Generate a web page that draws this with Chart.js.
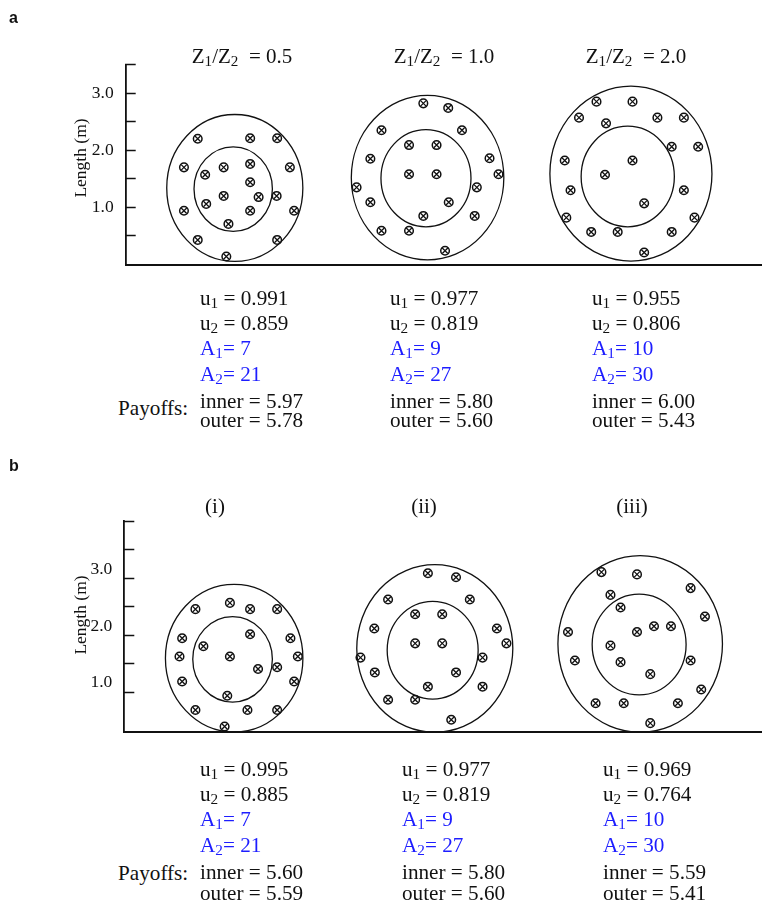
<!DOCTYPE html>
<html><head><meta charset="utf-8">
<script src="https://cdn.jsdelivr.net/npm/chart.js@4/dist/chart.umd.min.js"></script>
<style>
html,body{margin:0;padding:0;background:#fff;}
body{width:767px;height:906px;position:relative;overflow:hidden;font-family:"Liberation Serif","Times New Roman",serif;color:#111;}
canvas{position:absolute;left:0;}
.abs{position:absolute;white-space:nowrap;}
.lab{font-family:"Liberation Sans",Arial,sans-serif;font-weight:bold;font-size:16px;line-height:18px;}
.ttl{font-size:21px;line-height:24px;}
.ylab{font-size:17.5px;line-height:20px;}
.row{font-size:21.2px;line-height:24px;}
.blue{color:#1d1dff;}
sub{font-size:0.72em;vertical-align:baseline;position:relative;top:0.22em;line-height:0;}
</style></head>
<body>
<canvas id="cA" width="767" height="305" style="top:0px"></canvas>
<canvas id="cB" width="767" height="317" style="top:455px"></canvas>
<script>
// ---------------- data ----------------
const panelLetters = ['a', 'b'];
const ratiosA = ['0.5', '1.0', '2.0'];          // Z1/Z2
const titlesB = ['(i)', '(ii)', '(iii)'];
const u1A = ['0.991', '0.977', '0.955'];
const u2A = ['0.859', '0.819', '0.806'];
const a1A = ['7', '9', '10'];
const a2A = ['21', '27', '30'];
const innerA = ['5.97', '5.80', '6.00'];
const outerA = ['5.78', '5.60', '5.43'];
const u1B = ['0.995', '0.977', '0.969'];
const u2B = ['0.885', '0.819', '0.764'];
const a1B = ['7', '9', '10'];
const a2B = ['21', '27', '30'];
const innerB = ['5.60', '5.80', '5.59'];
const outerB = ['5.59', '5.60', '5.41'];
const yTickLabels = ['1.0', '2.0', '3.0'];
const yLabelValuesA = [1, 2, 3];
const yMarkValuesA = [0.5, 1, 1.5, 2, 2.5, 3, 3.5];
const yLabelValuesB = [0.87, 1.85, 2.84];
const yMarkValuesB = [0.69, 1.19, 1.69, 2.19, 2.69, 3.19, 3.69];
// circles: [centre x, centre y, radius] in metres
const outerRingsA = [[2.06, 1.34, 1.285], [5.70, 1.52, 1.44], [9.54, 1.59, 1.53]];
const innerRingsA = [[2.03, 1.32, 0.74], [5.67, 1.51, 0.85], [9.48, 1.54, 0.88]];
const outerRingsB = [[2.07, 1.29, 1.295], [5.85, 1.46, 1.47], [9.72, 1.54, 1.55]];
const innerRingsB = [[2.04, 1.27, 0.75], [5.81, 1.43, 0.857], [9.70, 1.53, 0.885]];
// conductor positions [x, y] in metres
const wiresA1 = [[1.36,2.20],[2.35,2.21],[2.86,2.21],[1.10,1.70],[1.85,1.70],[2.35,1.76],[3.10,1.70],[1.50,1.57],[2.35,1.44],[1.85,1.20],[2.51,1.18],[2.85,1.20],[1.52,1.06],[1.10,0.94],[2.35,0.94],[3.18,0.94],[1.94,0.71],[1.36,0.43],[2.86,0.43],[1.90,0.14]];
const wiresA2 = [[5.62,2.82],[6.09,2.74],[4.83,2.35],[6.35,2.35],[5.35,2.09],[5.87,2.09],[4.62,1.85],[6.87,1.86],[5.35,1.58],[5.87,1.58],[7.04,1.58],[4.36,1.35],[6.63,1.35],[4.62,1.09],[6.10,1.09],[5.62,0.85],[6.59,0.85],[4.83,0.59],[5.35,0.59],[6.03,0.24]];
const wiresA3 = [[8.89,2.85],[9.57,2.85],[8.56,2.57],[9.07,2.47],[10.04,2.57],[10.54,2.57],[10.31,2.06],[10.81,2.06],[8.29,1.82],[9.57,1.82],[9.05,1.57],[8.40,1.30],[10.54,1.30],[9.79,1.07],[8.32,0.82],[10.74,0.82],[8.79,0.57],[9.29,0.57],[10.31,0.57],[9.79,0.21]];
const wiresB1 = [[1.99,2.26],[1.34,2.15],[2.37,2.15],[2.88,2.15],[2.37,1.71],[1.09,1.64],[3.13,1.64],[1.49,1.50],[1.04,1.32],[1.99,1.32],[3.27,1.32],[2.52,1.10],[2.88,1.13],[1.09,0.88],[3.20,0.88],[1.94,0.63],[1.34,0.38],[2.32,0.38],[2.88,0.38],[1.89,0.09]];
const wiresB2 = [[5.72,2.78],[6.25,2.71],[4.97,2.32],[6.51,2.32],[5.48,2.06],[5.99,2.06],[4.71,1.81],[7.02,1.81],[7.20,1.55],[5.48,1.55],[5.99,1.55],[4.45,1.30],[6.75,1.30],[4.72,1.04],[6.25,1.04],[5.72,0.79],[6.75,0.79],[4.97,0.56],[5.48,0.56],[6.16,0.21]];
const wiresB3 = [[8.99,2.80],[9.66,2.76],[10.67,2.52],[9.16,2.40],[9.35,2.18],[10.94,2.02],[9.98,1.85],[10.30,1.85],[9.66,1.75],[8.36,1.75],[9.16,1.51],[8.49,1.25],[10.67,1.25],[9.35,1.22],[9.91,1.01],[10.87,0.74],[8.88,0.50],[9.41,0.50],[10.43,0.50],[9.91,0.15]];

// ---------------- layout ----------------
const LAY = {
  a: {canvasTop: 0, canvasH: 305, left: 125.7, top: 64.5, bottom: 264.5, right: 765.3, xmax: 12, ymax: 3.5},
  b: {canvasTop: 455, canvasH: 317, left: 124.3, top: 521.4, bottom: 731.7, right: 767, xmax: 12, ymax: 3.69}
};

function ringsPlugin(rings) {
  return {
    id: 'rings',
    beforeDatasetsDraw(chart) {
      const {ctx} = chart; const xs = chart.scales.x, ys = chart.scales.y;
      ctx.save();
      ctx.lineWidth = 1.3; ctx.strokeStyle = '#111';
      for (const [cx, cy, r] of rings) {
        const px = xs.getPixelForValue(cx), py = ys.getPixelForValue(cy);
        const rx = Math.abs(xs.getPixelForValue(cx + r) - px);
        const ry = Math.abs(ys.getPixelForValue(cy + r) - py);
        ctx.beginPath(); ctx.ellipse(px, py, rx, ry, 0, 0, Math.PI * 2); ctx.stroke();
      }
      ctx.restore();
    }
  };
}

function makePanel(id, L, rings, wires, markVals, labelVals) {
  const labelMap = new Map(labelVals.map((v, i) => [v, yTickLabels[i]]));
  const allTicks = [...new Set([...markVals, ...labelVals])].sort((p, q) => p - q);
  const pts = wires.flat().map(([x, y]) => ({x, y}));
  return new Chart(document.getElementById(id), {
    type: 'scatter',
    data: {datasets: [
      {data: pts, pointStyle: 'crossRot', pointRadius: 3.9, pointBorderWidth: 1.3, borderColor: '#111', backgroundColor: '#111'},
      {data: pts, pointStyle: 'circle', pointRadius: 4.3, pointBorderWidth: 1.5, borderColor: '#111', backgroundColor: 'rgba(0,0,0,0)'}
    ]},
    options: {
      responsive: false, animation: false, events: [],
      layout: {padding: {left: 0, top: L.top - L.canvasTop, right: 767 - L.right, bottom: L.canvasTop + L.canvasH - L.bottom}},
      plugins: {legend: {display: false}, tooltip: {enabled: false}},
      scales: {
        x: {type: 'linear', min: 0, max: L.xmax,
            ticks: {display: false}, grid: {display: false, drawTicks: false},
            border: {display: true, color: '#111', width: 2},
            afterFit(s) { s.height = 0; }},
        y: {type: 'linear', min: 0, max: L.ymax,
            afterBuildTicks(s) { s.ticks = allTicks.map(v => ({value: v})); },
            ticks: {autoSkip: false, padding: 22, color: '#111',
                    font: {family: 'Liberation Serif', size: 17.5},
                    callback: (v) => labelMap.has(v) ? labelMap.get(v) : ''},
            grid: {drawOnChartArea: false, drawTicks: true, tickLength: -10, tickWidth: 1.5,
                   tickColor: (c) => (c.tick && markVals.includes(c.tick.value)) ? '#111' : 'rgba(0,0,0,0)'},
            border: {display: true, color: '#111', width: 1.8},
            afterFit(s) { s.width = L.left; }}
      }
    },
    plugins: [ringsPlugin(rings)]
  });
}

makePanel('cA', LAY.a, [...outerRingsA, ...innerRingsA], [wiresA1, wiresA2, wiresA3], yMarkValuesA, yLabelValuesA);
makePanel('cB', LAY.b, [...outerRingsB, ...innerRingsB], [wiresB1, wiresB2, wiresB3], yMarkValuesB, yLabelValuesB);

// ---------------- text ----------------
function addText(html, left, top, cls, transform) {
  const d = document.createElement('div');
  d.className = 'abs ' + cls;
  d.innerHTML = html;
  d.style.left = left + 'px'; d.style.top = top + 'px';
  if (transform) d.style.transform = transform;
  document.body.appendChild(d);
}
addText(panelLetters[0], 9, 9, 'lab');
addText(panelLetters[1], 9, 457, 'lab');
addText('Length (m)', 80, 158, 'ylab', 'translate(-50%,-50%) rotate(-90deg)');
addText('Length (m)', 80, 615, 'ylab', 'translate(-50%,-50%) rotate(-90deg)');

const titleXA = [242, 444, 636];
ratiosA.forEach((r, i) => addText('Z<sub>1</sub>/Z<sub>2</sub>&nbsp; = ' + r, titleXA[i], 44, 'ttl', 'translateX(-50%)'));
const titleXB = [215, 424, 632];
titlesB.forEach((t, i) => addText(t, titleXB[i], 494, 'ttl', 'translateX(-50%)'));

function block(colX, rowTops, payTop, u1, u2, a1, a2, inn, out) {
  for (let i = 0; i < 3; i++) {
    addText('u<sub>1</sub> = ' + u1[i], colX[i], rowTops[0], 'row');
    addText('u<sub>2</sub> = ' + u2[i], colX[i], rowTops[1], 'row');
    addText('A<sub>1</sub>= ' + a1[i], colX[i], rowTops[2], 'row blue');
    addText('A<sub>2</sub>= ' + a2[i], colX[i], rowTops[3], 'row blue');
    addText('inner = ' + inn[i], colX[i], rowTops[4], 'row');
    addText('outer = ' + out[i], colX[i], rowTops[5], 'row');
  }
  addText('Payoffs:', 118, payTop, 'row');
}
block([200, 390, 592], [286, 311, 336, 362, 389, 408], 396, u1A, u2A, a1A, a2A, innerA, outerA);
block([200, 402, 603], [757, 782, 807, 833, 860, 881], 861, u1B, u2B, a1B, a2B, innerB, outerB);
</script>
</body></html>
